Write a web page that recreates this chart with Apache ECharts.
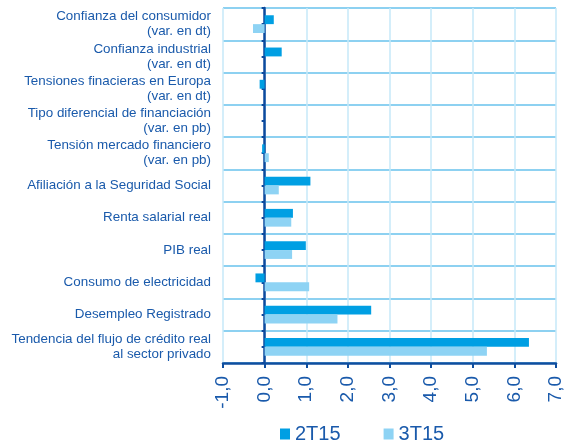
<!DOCTYPE html>
<html>
<head>
<meta charset="utf-8">
<script src="https://cdn.jsdelivr.net/npm/echarts@6/dist/echarts.min.js"></script>
<style>html,body{margin:0;padding:0;background:#fff}#c{width:574px;height:447px}</style>
</head>
<body>
<div id="c"></div>
<script>
const categories = [
  'Confianza del consumidor\n(var. en dt)',
  'Confianza industrial\n(var. en dt)',
  'Tensiones finacieras en Europa\n(var. en dt)',
  'Tipo diferencial de financiación\n(var. en pb)',
  'Tensión mercado financiero\n(var. en pb)',
  'Afiliación a la Seguridad Social',
  'Renta salarial real',
  'PIB real',
  'Consumo de electricidad',
  'Desempleo Registrado',
  'Tendencia del flujo de crédito real\nal sector privado'
];
const series2T15 = [0.22, 0.41, -0.12, 0, -0.06, 1.10, 0.68, 0.99, -0.22, 2.56, 6.35];
const series3T15 = [-0.28, 0, 0, 0, 0.10, 0.34, 0.64, 0.66, 1.07, 1.75, 5.34];
const xTicks = [-1, 0, 1, 2, 3, 4, 5, 6, 7];

const dark = '#1a5aab';
const chart = echarts.init(document.getElementById('c'), null, {renderer: 'canvas'});
chart.setOption({
  animation: false,
  textStyle: {fontFamily: 'Liberation Sans, Arial, sans-serif'},
  grid: {left: 223, right: 18, top: 8, bottom: 84, containLabel: false},
  legend: {
    top: 424, left: 280, padding: 0, itemWidth: 10, itemHeight: 11, itemGap: 43,
    icon: 'rect',
    textStyle: {color: dark, fontSize: 20, fontFamily: 'Liberation Sans, Arial, sans-serif'},
    data: ['2T15', '3T15']
  },
  xAxis: {
    type: 'value', min: xTicks[0], max: xTicks[xTicks.length - 1], interval: 1,
    axisLine: {show: true, onZero: false, lineStyle: {color: '#0e4e9f', width: 2.5}},
    axisTick: {show: true, length: 5, lineStyle: {color: '#0e4e9f', width: 2}},
    axisLabel: {rotate: 90, color: dark, fontSize: 19, margin: 13,
      formatter: v => v.toFixed(1).replace('.', ',')},
    splitLine: {show: true, lineStyle: {color: '#c6e8f8', width: 1.5}}
  },
  yAxis: [{
    type: 'category', inverse: true, data: categories,
    axisLine: {show: false, onZero: false},
    axisTick: {show: false},
    axisLabel: {color: dark, fontSize: 13.4, lineHeight: 15, margin: 12, align: 'right'},
    splitLine: {show: true, lineStyle: {color: '#8dd1f1', width: 2}}
  }, {
    type: 'category', inverse: true, position: 'left',
    data: Array.from({length: categories.length * 2}, (_, i) => String(i)),
    axisLine: {show: true, onZero: true, lineStyle: {color: '#0c4a9e', width: 2.5}},
    axisTick: {show: true, length: 3, lineStyle: {color: '#0c4a9e', width: 2}},
    axisLabel: {show: false},
    splitLine: {show: false}
  }],
  series: [{
    name: '2T15', type: 'bar', data: series2T15, yAxisIndex: 0,
    barGap: '0%', barCategoryGap: '45%',
    itemStyle: {color: '#009fe3'}, z: 2
  }, {
    name: '3T15', type: 'bar', data: series3T15, yAxisIndex: 0,
    barGap: '0%', barCategoryGap: '45%',
    itemStyle: {color: '#8ed3f4'}, z: 2
  }]
});
</script>
</body>
</html>
